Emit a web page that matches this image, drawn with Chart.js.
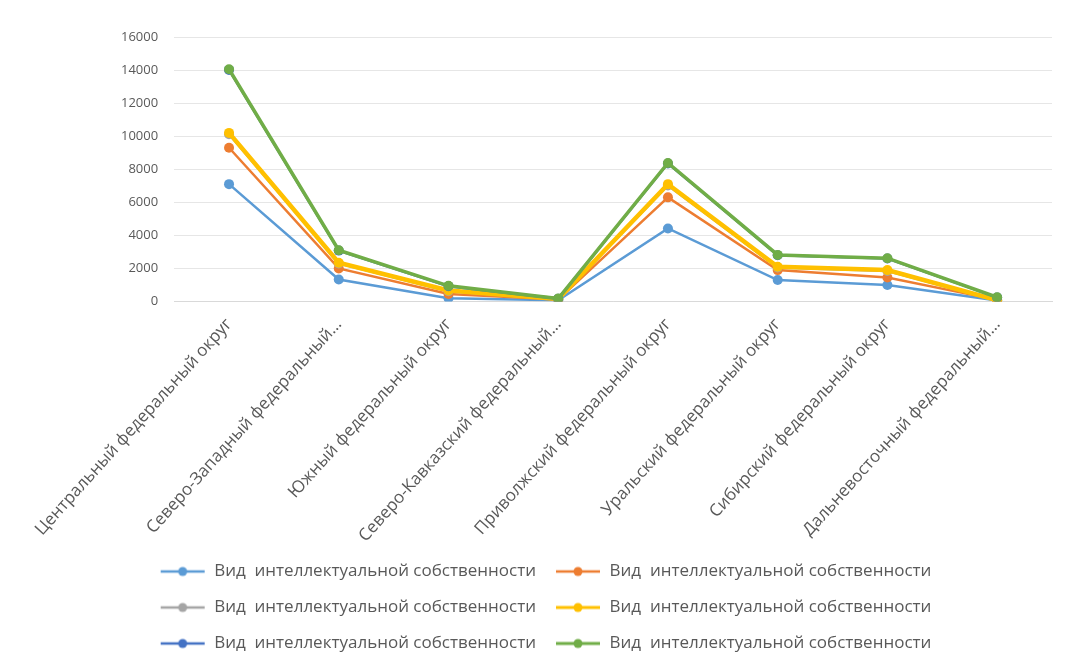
<!DOCTYPE html>
<html>
<head>
<meta charset="utf-8">
<script src="https://cdn.jsdelivr.net/npm/chart.js@4/dist/chart.umd.min.js"></script>
<style>
  html, body { margin: 0; padding: 0; background: #ffffff; }
  #wrap { width: 1070px; height: 656px; }
</style>
</head>
<body>
<div id="wrap"><canvas id="c" width="1070" height="656"></canvas></div>
<script>
// Federal districts
const categories = [
  'Центральный федеральный округ',
  'Северо-Западный федеральный…',
  'Южный федеральный округ',
  'Северо-Кавказский федеральный…',
  'Приволжский федеральный округ',
  'Уральский федеральный округ',
  'Сибирский федеральный округ',
  'Дальневосточный федеральный…'
];

const seriesName = 'Вид  интеллектуальной собственности';

const series1 = [7100, 1330, 200, 80, 4420, 1300, 1000, 60];
const series2 = [9300, 2000, 450, 120, 6300, 1900, 1450, 100];
const series3 = [10120, 2300, 620, 140, 7020, 2060, 1850, 80];
const series4 = [10200, 2350, 670, 150, 7100, 2100, 1900, 80];
const series5 = [14010, 3080, 930, 175, 8350, 2800, 2600, 250];
const series6 = [14050, 3100, 950, 180, 8380, 2820, 2620, 260];

const yTicks = [0, 2000, 4000, 6000, 8000, 10000, 12000, 14000, 16000];

const colors = ['#5b9bd5', '#ed7d31', '#a5a5a5', '#ffc000', '#4472c4', '#70ad47'];
const widths = [2.5, 2.5, 2.5, 4.5, 2.5, 3.5];
const allSeries = [series1, series2, series3, series4, series5, series6];

// legend glyph: a short line with a round marker in the middle
function legendGlyph(color, w) {
  const cv = document.createElement('canvas');
  cv.width = 46; cv.height = 14;
  const g = cv.getContext('2d');
  g.strokeStyle = color;
  g.lineWidth = Math.min(w, 3);
  g.beginPath(); g.moveTo(1, 7); g.lineTo(45, 7); g.stroke();
  g.fillStyle = color;
  g.beginPath(); g.arc(23, 7, 4.5, 0, Math.PI * 2); g.fill();
  return cv;
}
const glyphs = colors.map((c, i) => legendGlyph(c, widths[i]));

const datasets = allSeries.map((vals, i) => ({
  label: seriesName,
  data: vals,
  borderColor: colors[i],
  backgroundColor: colors[i],
  borderWidth: widths[i],
  pointRadius: 5,
  pointBorderWidth: 0,
  pointHoverRadius: 5,
  tension: 0,
  order: allSeries.length - i
}));

// the rotated category labels may reach into the legend band:
// reserve less height for the legend, then give it its full box back
const LEGEND_TRIM = 21;
const legendPlacement = {
  id: 'legendPlacement',
  beforeLayout(chart) {
    const lg = chart.legend;
    if (lg && !lg._trimmed) {
      const fit = lg.fit;
      lg.fit = function () { fit.call(this); this.height -= LEGEND_TRIM; };
      lg._trimmed = true;
    }
  },
  afterLayout(chart) {
    const lg = chart.legend;
    if (!lg) return;
    lg.left -= 33; lg.right -= 33;
    lg.top -= LEGEND_TRIM - 6;
    lg.bottom += 6;
    lg.height = lg.bottom - lg.top;
  }
};

new Chart(document.getElementById('c'), {
  type: 'line',
  data: { labels: categories, datasets: datasets },
  plugins: [legendPlacement],
  options: {
    responsive: false,
    animation: false,
    layout: { padding: { left: 105, right: 18, top: 37, bottom: 0 } },
    plugins: {
      tooltip: { enabled: false },
      legend: {
        position: 'bottom',
        labels: {
          usePointStyle: true,
          pointStyleWidth: 46,
          boxHeight: 17,
          padding: 19,
          color: '#595959',
          font: { family: 'Open Sans', size: 17 },
          generateLabels: (chart) => chart.data.datasets.map((ds, i) => ({
            text: ds.label,
            fillStyle: ds.borderColor,
            strokeStyle: ds.borderColor,
            lineWidth: 0,
            pointStyle: glyphs[i],
            fontColor: '#595959',
            datasetIndex: i,
            hidden: false
          }))
        }
      }
    },
    scales: {
      x: {
        offset: true,
        grid: { display: false, drawTicks: false },
        border: { display: true, color: '#d9d9d9' },
        ticks: {
          minRotation: 48,
          maxRotation: 48,
          padding: 13,
          autoSkip: false,
          color: '#595959',
          font: { family: 'Open Sans', size: 17 }
        }
      },
      y: {
        min: 0,
        max: 16000,
        afterBuildTicks: (axis) => { axis.ticks = yTicks.map(v => ({ value: v })); },
        grid: { color: '#e6e6e6', drawTicks: false, lineWidth: 1 },
        border: { display: false },
        ticks: {
          padding: 16,
          color: '#595959',
          font: { family: 'Open Sans', size: 13 },
          callback: (v) => String(v)
        }
      }
    }
  }
});
</script>
</body>
</html>
